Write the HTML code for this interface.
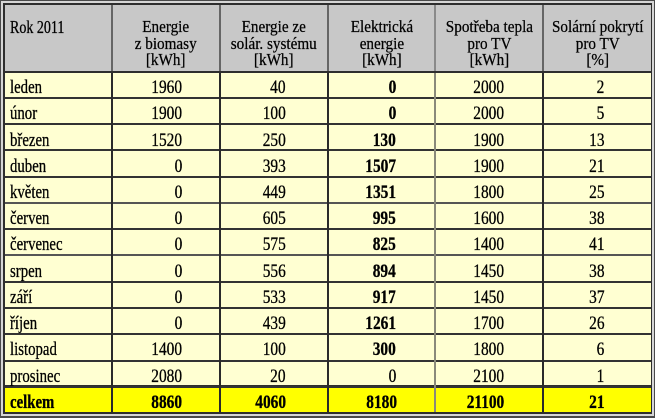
<!DOCTYPE html>
<html><head><meta charset="utf-8">
<style>
html,body{margin:0;padding:0;}
body{width:655px;height:418px;position:relative;overflow:hidden;background:#fff;font-family:"Liberation Serif",serif;color:#000;}
.a{position:absolute;}
.t{position:absolute;font-size:18.5px;line-height:20px;white-space:nowrap;-webkit-text-stroke:0.3px #000;}
.t span{display:inline-block;transform:scaleX(0.83);}
.l span{transform-origin:left center;transform:scaleX(0.8);}
.r{text-align:right;}
.r span{transform-origin:right center;}
.c{text-align:center;font-size:16.5px;line-height:16.5px;-webkit-text-stroke:0.25px #000;}
.c span{transform-origin:center center;transform:scaleX(0.92);}
b{font-weight:bold;}
</style></head><body>
<div class="a" style="left:0;top:0;width:655px;height:418px;background:#4a4a4a"></div>
<div class="a" style="left:1px;top:1px;width:653px;height:415px;background:#d6d6d6"></div>
<div class="a" style="left:3px;top:3px;width:649px;height:411px;background:#2e2e2e"></div>
<div class="a" style="left:5px;top:5px;width:646px;height:66px;background:#c8c8c8"></div>
<div class="a" style="left:5px;top:73px;width:646px;height:312px;background:#ffffd2"></div>
<div class="a" style="left:5px;top:388px;width:646px;height:24px;background:#ffff00"></div>
<!-- horizontal lines -->
<div class="a" style="left:5px;top:97px;width:646px;height:2px;background:#333"></div>
<div class="a" style="left:5px;top:123px;width:646px;height:2px;background:#333"></div>
<div class="a" style="left:5px;top:149px;width:646px;height:2px;background:#333"></div>
<div class="a" style="left:5px;top:176px;width:646px;height:2px;background:#333"></div>
<div class="a" style="left:5px;top:202px;width:646px;height:2px;background:#555"></div>
<div class="a" style="left:5px;top:228px;width:646px;height:2px;background:#333"></div>
<div class="a" style="left:5px;top:254px;width:646px;height:2px;background:#555"></div>
<div class="a" style="left:5px;top:281px;width:646px;height:2px;background:#333"></div>
<div class="a" style="left:5px;top:307px;width:646px;height:2px;background:#333"></div>
<div class="a" style="left:5px;top:333px;width:646px;height:2px;background:#333"></div>
<div class="a" style="left:5px;top:360px;width:646px;height:2px;background:#333"></div>
<div class="a" style="left:5px;top:386px;width:646px;height:2px;background:#333"></div>
<!-- vertical lines -->
<div class="a" style="left:111px;top:5px;width:2px;height:66px;background:#666"></div>
<div class="a" style="left:219px;top:5px;width:2px;height:66px;background:#666"></div>
<div class="a" style="left:327px;top:5px;width:2px;height:66px;background:#666"></div>
<div class="a" style="left:434px;top:5px;width:2px;height:66px;background:#8a8a8a"></div>
<div class="a" style="left:542px;top:5px;width:2px;height:66px;background:#666"></div>
<div class="a" style="left:111px;top:73px;width:2px;height:339px;background:#2a2a2a"></div>
<div class="a" style="left:219px;top:73px;width:2px;height:339px;background:#2a2a2a"></div>
<div class="a" style="left:327px;top:73px;width:2px;height:339px;background:#2a2a2a"></div>
<div class="a" style="left:434px;top:73px;width:2px;height:339px;background:#8a8a7a"></div>
<div class="a" style="left:542px;top:73px;width:2px;height:339px;background:#2a2a2a"></div>

<!-- header -->
<div class="t l" style="left:10px;top:17.4px;font-size:17.5px;"><span>Rok 2011</span></div>
<div class="t c" style="left:113px;top:19.2px;width:106px;"><span>Energie<br>z biomasy<br>[kWh]</span></div>
<div class="t c" style="left:221px;top:19.2px;width:106px;"><span>Energie ze<br>solár. systému<br>[kWh]</span></div>
<div class="t c" style="left:329px;top:19.2px;width:105px;"><span>Elektrická<br>energie<br>[kWh]</span></div>
<div class="t c" style="left:436px;top:19.2px;width:106px;"><span>Spotřeba tepla<br>pro TV<br>[kWh]</span></div>
<div class="t c" style="left:544px;top:19.2px;width:107px;"><span>Solární pokrytí<br>pro TV<br>[%]</span></div>

<!-- rows -->
<div class="t l" style="left:10px;top:78.1px"><span>leden</span></div>
<div class="t r" style="right:473px;top:78.1px"><span>1960</span></div>
<div class="t r" style="right:369.5px;top:78.1px"><span>40</span></div>
<div class="t r" style="right:259px;top:78.1px"><span><b>0</b></span></div>
<div class="t r" style="right:151.5px;top:78.1px"><span>2000</span></div>
<div class="t r" style="right:51px;top:78.1px"><span>2</span></div>

<div class="t l" style="left:10px;top:104.3px"><span>únor</span></div>
<div class="t r" style="right:473px;top:104.3px"><span>1900</span></div>
<div class="t r" style="right:369.5px;top:104.3px"><span>100</span></div>
<div class="t r" style="right:259px;top:104.3px"><span><b>0</b></span></div>
<div class="t r" style="right:151.5px;top:104.3px"><span>2000</span></div>
<div class="t r" style="right:51px;top:104.3px"><span>5</span></div>

<div class="t l" style="left:10px;top:130.5px"><span>březen</span></div>
<div class="t r" style="right:473px;top:130.5px"><span>1520</span></div>
<div class="t r" style="right:369.5px;top:130.5px"><span>250</span></div>
<div class="t r" style="right:259px;top:130.5px"><span><b>130</b></span></div>
<div class="t r" style="right:151.5px;top:130.5px"><span>1900</span></div>
<div class="t r" style="right:51px;top:130.5px"><span>13</span></div>

<div class="t l" style="left:10px;top:156.8px"><span>duben</span></div>
<div class="t r" style="right:473px;top:156.8px"><span>0</span></div>
<div class="t r" style="right:369.5px;top:156.8px"><span>393</span></div>
<div class="t r" style="right:259px;top:156.8px"><span><b>1507</b></span></div>
<div class="t r" style="right:151.5px;top:156.8px"><span>1900</span></div>
<div class="t r" style="right:51px;top:156.8px"><span>21</span></div>

<div class="t l" style="left:10px;top:183.0px"><span>květen</span></div>
<div class="t r" style="right:473px;top:183.0px"><span>0</span></div>
<div class="t r" style="right:369.5px;top:183.0px"><span>449</span></div>
<div class="t r" style="right:259px;top:183.0px"><span><b>1351</b></span></div>
<div class="t r" style="right:151.5px;top:183.0px"><span>1800</span></div>
<div class="t r" style="right:51px;top:183.0px"><span>25</span></div>

<div class="t l" style="left:10px;top:209.2px"><span>červen</span></div>
<div class="t r" style="right:473px;top:209.2px"><span>0</span></div>
<div class="t r" style="right:369.5px;top:209.2px"><span>605</span></div>
<div class="t r" style="right:259px;top:209.2px"><span><b>995</b></span></div>
<div class="t r" style="right:151.5px;top:209.2px"><span>1600</span></div>
<div class="t r" style="right:51px;top:209.2px"><span>38</span></div>

<div class="t l" style="left:10px;top:235.4px"><span>červenec</span></div>
<div class="t r" style="right:473px;top:235.4px"><span>0</span></div>
<div class="t r" style="right:369.5px;top:235.4px"><span>575</span></div>
<div class="t r" style="right:259px;top:235.4px"><span><b>825</b></span></div>
<div class="t r" style="right:151.5px;top:235.4px"><span>1400</span></div>
<div class="t r" style="right:51px;top:235.4px"><span>41</span></div>

<div class="t l" style="left:10px;top:261.6px"><span>srpen</span></div>
<div class="t r" style="right:473px;top:261.6px"><span>0</span></div>
<div class="t r" style="right:369.5px;top:261.6px"><span>556</span></div>
<div class="t r" style="right:259px;top:261.6px"><span><b>894</b></span></div>
<div class="t r" style="right:151.5px;top:261.6px"><span>1450</span></div>
<div class="t r" style="right:51px;top:261.6px"><span>38</span></div>

<div class="t l" style="left:10px;top:287.9px"><span>září</span></div>
<div class="t r" style="right:473px;top:287.9px"><span>0</span></div>
<div class="t r" style="right:369.5px;top:287.9px"><span>533</span></div>
<div class="t r" style="right:259px;top:287.9px"><span><b>917</b></span></div>
<div class="t r" style="right:151.5px;top:287.9px"><span>1450</span></div>
<div class="t r" style="right:51px;top:287.9px"><span>37</span></div>

<div class="t l" style="left:10px;top:314.1px"><span>říjen</span></div>
<div class="t r" style="right:473px;top:314.1px"><span>0</span></div>
<div class="t r" style="right:369.5px;top:314.1px"><span>439</span></div>
<div class="t r" style="right:259px;top:314.1px"><span><b>1261</b></span></div>
<div class="t r" style="right:151.5px;top:314.1px"><span>1700</span></div>
<div class="t r" style="right:51px;top:314.1px"><span>26</span></div>

<div class="t l" style="left:10px;top:340.3px"><span>listopad</span></div>
<div class="t r" style="right:473px;top:340.3px"><span>1400</span></div>
<div class="t r" style="right:369.5px;top:340.3px"><span>100</span></div>
<div class="t r" style="right:259px;top:340.3px"><span><b>300</b></span></div>
<div class="t r" style="right:151.5px;top:340.3px"><span>1800</span></div>
<div class="t r" style="right:51px;top:340.3px"><span>6</span></div>

<div class="t l" style="left:10px;top:366.5px"><span>prosinec</span></div>
<div class="t r" style="right:473px;top:366.5px"><span>2080</span></div>
<div class="t r" style="right:369.5px;top:366.5px"><span>20</span></div>
<div class="t r" style="right:259px;top:366.5px"><span>0</span></div>
<div class="t r" style="right:151.5px;top:366.5px"><span>2100</span></div>
<div class="t r" style="right:51px;top:366.5px"><span>1</span></div>

<div class="t l" style="left:10px;top:392.7px"><span><b>celkem</b></span></div>
<div class="t r" style="right:473px;top:392.7px"><span><b>8860</b></span></div>
<div class="t r" style="right:369.5px;top:392.7px"><span><b>4060</b></span></div>
<div class="t r" style="right:258px;top:392.7px"><span><b>8180</b></span></div>
<div class="t r" style="right:151px;top:392.7px"><span><b>21100</b></span></div>
<div class="t r" style="right:51px;top:392.7px"><span><b>21</b></span></div>
</body></html>
